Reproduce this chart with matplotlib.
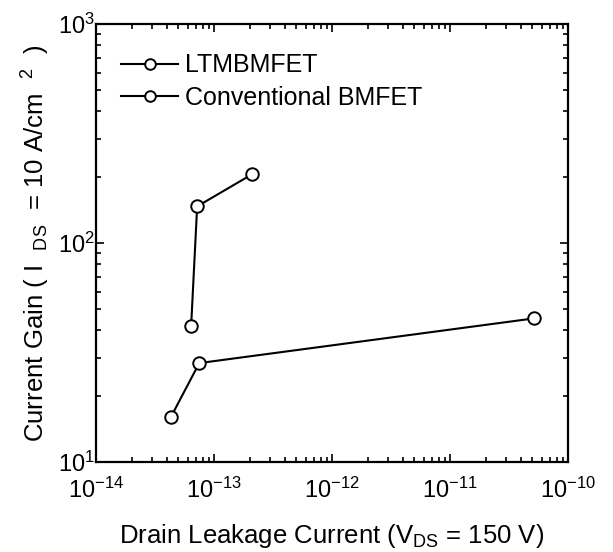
import numpy as np
import matplotlib
matplotlib.use("Agg")
import matplotlib.pyplot as plt
from matplotlib.ticker import FixedLocator, LogLocator, LogFormatterMathtext, NullFormatter

plt.rcParams['font.family'] = ['Liberation Sans', 'DejaVu Sans']
plt.rcParams['mathtext.fontset'] = 'custom'
plt.rcParams['mathtext.rm'] = 'Liberation Sans'
plt.rcParams['mathtext.it'] = 'Liberation Sans'
plt.rcParams['mathtext.bf'] = 'Liberation Sans:bold'
plt.rcParams['axes.unicode_minus'] = False

# leakage current (A) vs current gain
ltm_leak = [6.4e-14, 7.2e-14, 2.1e-13]
ltm_gain = [41.8, 147, 206]
conv_leak = [4.3e-14, 7.5e-14, 5.2e-11]
conv_gain = [16.0, 28.3, 45.3]

series_names = ['LTMBMFET', 'Conventional BMFET']
x_major = [1e-14, 1e-13, 1e-12, 1e-11, 1e-10]
y_major = [1e1, 1e2, 1e3]

fig = plt.figure(figsize=(6.13, 5.52), dpi=100)
ax = fig.add_axes([0.1566, 0.163, 0.770, 0.7935])

mk = dict(marker='o', markersize=9, markerfacecolor='white',
          markeredgecolor='black', markeredgewidth=1.4,
          color='black', linewidth=1.5)
ax.plot(ltm_leak, ltm_gain, label=series_names[0], **mk)
ax.plot(conv_leak, conv_gain, label=series_names[1], **mk)

ax.set_xscale('log')
ax.set_yscale('log')
ax.set_xlim(1e-14, 1e-10)
ax.set_ylim(10, 1000)

for a, major in ((ax.xaxis, x_major), (ax.yaxis, y_major)):
    a.set_major_locator(FixedLocator(major))
    a.set_minor_locator(LogLocator(base=10, subs=np.arange(2, 10), numticks=10))
    a.set_major_formatter(LogFormatterMathtext())
    a.set_minor_formatter(NullFormatter())

ax.tick_params(which='both', direction='in', top=True, right=True,
               width=1.2, labelsize=17, colors='black')
ax.tick_params(which='major', length=6)
ax.tick_params(which='minor', length=3.5)
ax.tick_params(axis='x', pad=11)
ax.tick_params(axis='y', pad=1)
for s in ax.spines.values():
    s.set_linewidth(1.6)

ax.set_xlabel('Drain Leakage Current (V$_{\\rm DS}$ = 150 V)', fontsize=18.5, labelpad=14)
ax.set_ylabel('Current Gain ( I  $_{\\rm DS}$  = 10 A/cm  $^{2}$  )', fontsize=18.5, labelpad=4)

ax.legend(loc='upper left', bbox_to_anchor=(0.0, 0.99), frameon=False,
          fontsize=18, handlelength=2.3, handletextpad=0.25, labelspacing=0.35,
          borderaxespad=0.6, markerscale=0.85)

fig.savefig('out.png', dpi=100)
